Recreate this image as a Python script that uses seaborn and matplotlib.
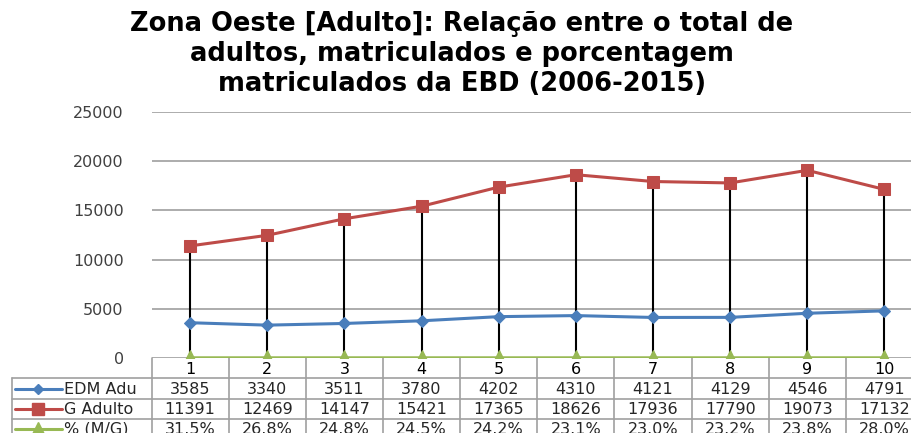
import numpy as np
import pandas as pd
import matplotlib
matplotlib.use("Agg")
import matplotlib.pyplot as plt
import seaborn as sns

# data
categories = [1, 2, 3, 4, 5, 6, 7, 8, 9, 10]
edm_adu = [3585, 3340, 3511, 3780, 4202, 4310, 4121, 4129, 4546, 4791]
g_adulto = [11391, 12469, 14147, 15421, 17365, 18626, 17936, 17790, 19073, 17132]
pct_mg = [31.5, 26.8, 24.8, 24.5, 24.2, 23.1, 23.0, 23.2, 23.8, 28.0]
series_names = ["EDM Adu", "G Adulto", "% (M/G)"]
title = ("Zona Oeste [Adulto]: Relação entre o total de\n"
         "adultos, matriculados e porcentagem\n"
         "matriculados da EBD (2006-2015)")

blue, red, green = "#4A7EBB", "#BE4B48", "#98B954"
grid_col = "#A6A6A6"
txt_col = "#262626"

sns.set_style("white")
plt.rcParams["font.family"] = ["DejaVu Sans"]

W, H = 911, 433
fig = plt.figure(figsize=(W / 100, H / 100), dpi=100)
# plot area runs past the right edge (cropped, like the reference)
px_left, px_right, px_top, px_bot = 151.5, 923.0, 112.0, 358.0
ax = fig.add_axes([px_left / W, (H - px_bot) / H,
                   (px_right - px_left) / W, (px_bot - px_top) / H])

df = pd.DataFrame({"cat": categories, "edm": edm_adu, "g": g_adulto,
                   "pct": np.array(pct_mg) / 100})

# high-low lines
ax.vlines(df["cat"], df["pct"], df["g"], color="black", lw=1.5, zorder=2)

sns.lineplot(data=df, x="cat", y="g", ax=ax, color=red, lw=2.2,
             marker="s", markersize=9, markeredgecolor=red, zorder=3)
sns.lineplot(data=df, x="cat", y="edm", ax=ax, color=blue, lw=2.2,
             marker="D", markersize=6, markeredgecolor=blue, zorder=3)
sns.lineplot(data=df, x="cat", y="pct", ax=ax, color=green, lw=2.5,
             marker="^", markersize=11, markeredgecolor=green, zorder=3)

ax.set_xlim(0.5, 10.5)
ax.set_ylim(0, 25000)
ax.set_yticks(range(0, 25001, 5000))
ax.yaxis.grid(True, color=grid_col, lw=1.3)
ax.set_axisbelow(True)
for s in ax.spines.values():
    s.set_visible(False)
ax.set_xticks([])
ax.tick_params(axis="y", length=0, pad=20, labelsize=11.5, labelcolor="#404040")
ax.set_xlabel("")
ax.set_ylabel("")

# data table below the plot
axh = px_bot - px_top
unit = (px_right - px_left) / 10.0


def xd(px):
    return 0.5 + (px - px_left) / unit


def ya(py):
    return -(py - px_bot) / axh


tr = ax.get_xaxis_transform()
tcol = "#A0A0A0"
for py in [378, 399, 419]:
    ax.plot([xd(12), 10.5], [ya(py), ya(py)], color=tcol, lw=1.2,
            transform=tr, clip_on=False)
for i in range(11):
    ax.plot([0.5 + i, 0.5 + i], [0, ya(440)], color=tcol, lw=1.2,
            transform=tr, clip_on=False)
ax.plot([xd(12), xd(12)], [ya(378), ya(440)], color=tcol, lw=1.2,
        transform=tr, clip_on=False)

fs = 11.5
for c in categories:
    ax.text(c, ya(370), str(c), ha="center", va="center", fontsize=fs,
            color="black", transform=tr, clip_on=False)

rows = [
    (389, [str(v) for v in edm_adu], blue, "D", 5),
    (409, [str(v) for v in g_adulto], red, "s", 8),
    (429, [f"{v:.1f}%" for v in pct_mg], green, "^", 10),
]
for (py, labels, col, mk, ms), name in zip(rows, series_names):
    ax.plot([xd(15), xd(62)], [ya(py), ya(py)], color=col, lw=2.2,
            transform=tr, clip_on=False)
    ax.plot([xd(38.5)], [ya(py)], marker=mk, markersize=ms, color=col,
            transform=tr, clip_on=False)
    ax.text(xd(64), ya(py), name, ha="left", va="center", fontsize=fs,
            color=txt_col, transform=tr, clip_on=False)
    for c, lab in zip(categories, labels):
        ax.text(c, ya(py), lab, ha="center", va="center", fontsize=fs,
                color=txt_col, transform=tr, clip_on=False)

fig.text(462 / W, 1 - 54 / H, title, ha="center", va="center",
         fontsize=18.5, fontweight="bold", linespacing=1.2, color="black")

fig.savefig("out.png", dpi=100)
